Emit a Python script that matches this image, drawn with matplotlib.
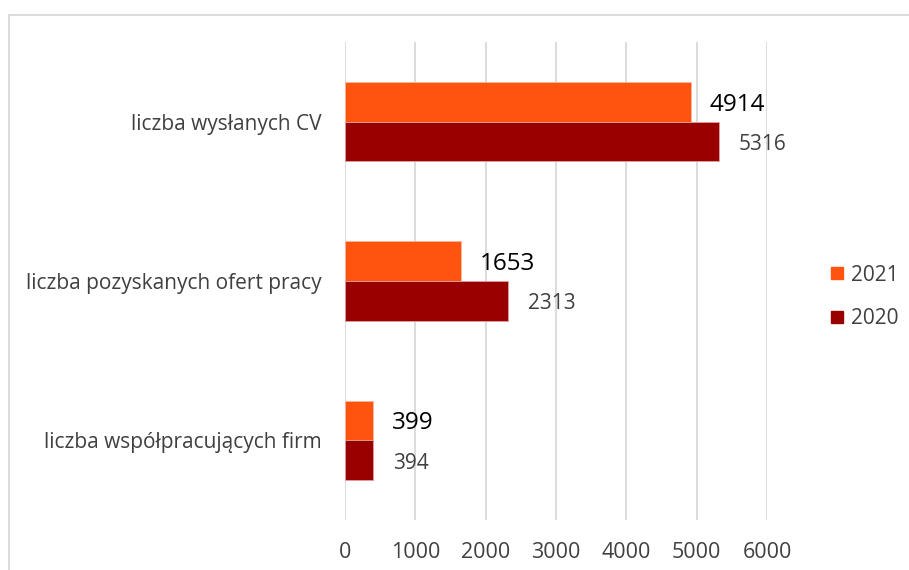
import numpy as np
import matplotlib
matplotlib.use('Agg')
import matplotlib.pyplot as plt
from matplotlib.lines import Line2D

plt.rcParams['font.family'] = ['Open Sans', 'DejaVu Sans']

CATEGORIES = ['liczba wysłanych CV', 'liczba pozyskanych ofert pracy', 'liczba współpracujących firm']
VALUES_2021 = [4914, 1653, 399]
VALUES_2020 = [5316, 2313, 394]
SERIES = ['2021', '2020']
COLORS = {'2021': '#FF540F', '2020': '#990000'}
XTICKS = [0, 1000, 2000, 3000, 4000, 5000, 6000]

fig = plt.figure(figsize=(9.09, 5.70), dpi=100)
ax = fig.add_axes([345/909, 1-520/570, (767-345)/909, (520-42)/570])

y = np.arange(len(CATEGORIES))
h = 0.25
ax.barh(y - h/2, VALUES_2021, height=h, color=COLORS['2021'], edgecolor='#f4b6a0', linewidth=0.6, zorder=3)
ax.barh(y + h/2, VALUES_2020, height=h, color=COLORS['2020'], edgecolor='#e0a0a0', linewidth=0.6, zorder=3)

for yy, v in zip(y, VALUES_2021):
    ax.annotate(str(v), xy=(v, yy - h/2), xytext=(19, -3), textcoords='offset pixels',
                va='center', ha='left', fontsize=17.5, color='black')
for yy, v in zip(y, VALUES_2020):
    ax.annotate(str(v), xy=(v, yy + h/2), xytext=(20, -3), textcoords='offset pixels',
                va='center', ha='left', fontsize=15, color='#404040')

ax.set_ylim(2.5, -0.5)
ax.set_xlim(0, 6000)
ax.set_xticks(XTICKS)
ax.set_yticks(y)
ax.set_yticklabels(CATEGORIES, fontsize=15, color='#404040')
ax.tick_params(axis='x', labelsize=15.5, labelcolor='#404040', length=0, pad=16)
ax.tick_params(axis='y', length=0, pad=17)
ax.grid(axis='x', color='#d9d9d9', linewidth=1.3, zorder=0)
for s in ax.spines.values():
    s.set_visible(False)

handles = [Line2D([], [], marker='s', linestyle='', markersize=9, color=COLORS[s]) for s in SERIES]
fig.legend(handles, SERIES, loc='center left', bbox_to_anchor=(824/909, 1-297/570),
           frameon=False, fontsize=15, labelcolor='#404040', handletextpad=0.1,
           handlelength=1.2, labelspacing=1.1, borderpad=0, borderaxespad=0)

# outer frame (top and left visible)
fig.add_artist(Line2D([9/909, 9/909], [0, 1-15/570], color='#d9d9d9', linewidth=1.3, transform=fig.transFigure))
fig.add_artist(Line2D([9/909, 1], [1-15/570, 1-15/570], color='#d9d9d9', linewidth=1.3, transform=fig.transFigure))

fig.savefig('out.png', dpi=100)
